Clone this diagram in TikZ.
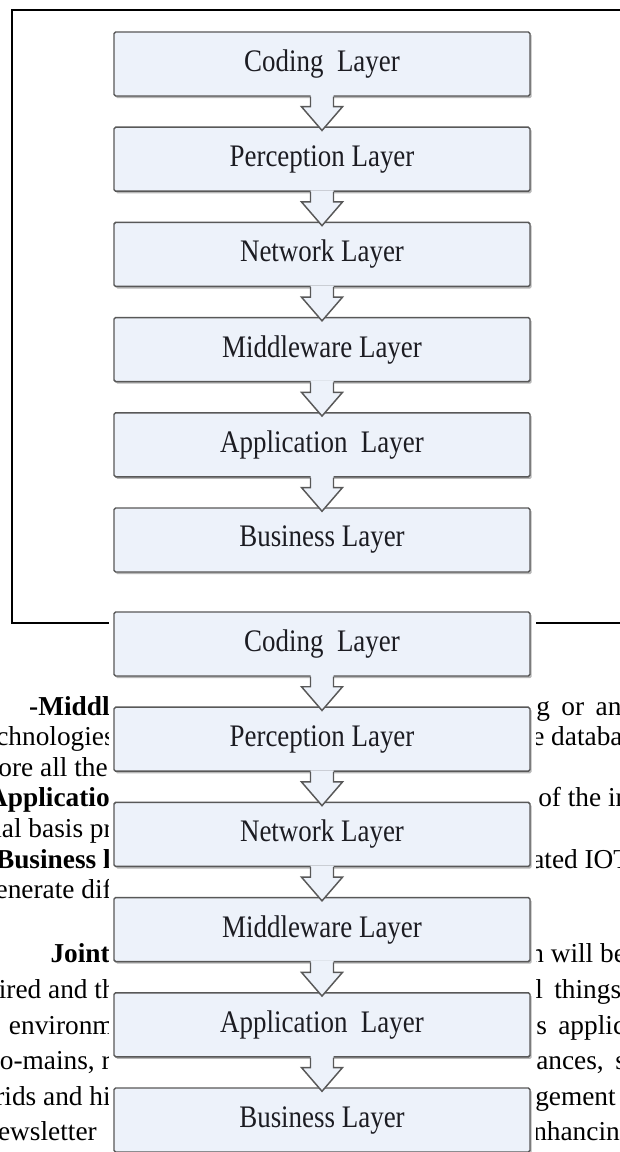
\documentclass[tikz,border=0pt]{standalone}
\usepackage{fontspec}
\setmainfont{Liberation Serif}
\newfontfamily\layerfamily{Liberation Serif}[FakeStretch=0.86]
\usetikzlibrary{calc,shadows}

\definecolor{layerfill}{RGB}{237,242,250}
\definecolor{layerline}{RGB}{88,88,88}
\definecolor{labeltext}{RGB}{28,28,34}

% body text with justified-looking word gaps
\newcommand\bodyfont{\fontsize{20.5}{20}\selectfont}
\newcommand\widegaps{\spaceskip=0.42em\relax}

\tikzset{
  layer/.style={draw=layerline, line width=1.1pt, fill=layerfill,
    rounded corners=1.2pt, minimum width=312pt, minimum height=48pt,
    inner sep=0pt, text=labeltext,
    font=\layerfamily\fontsize{23.5}{23.5}\selectfont,
    drop shadow={shadow xshift=1.3pt, shadow yshift=-1.6pt,
      opacity=0.4, fill=black!70}},
  flowfill/.style={fill=layerfill},
  flowline/.style={draw=layerline, line width=1.1pt, line join=miter},
  frameline/.style={draw=black, line width=1.1pt},
  bodyleft/.style={anchor=base east, inner sep=0pt, font=\bodyfont},
  bodyright/.style={anchor=base west, inner sep=0pt, font=\bodyfont},
  cover/.style={fill=white, draw=none}
}

% hollow block arrow from the bottom of one layer to the top of the next
\newcommand\flowarrow[2]{%
  \fill[flowfill] ($(#1.south)+(-11.5,-1.6)$) -- ($(#1.south)+(-11.5,10)$)
    -- ($(#1.south)+(-20.5,10)$) -- ($(#2.north)+(0,4)$)
    -- ($(#1.south)+(20.5,10)$) -- ($(#1.south)+(11.5,10)$)
    -- ($(#1.south)+(11.5,-1.6)$) -- cycle;
  \draw[flowline] ($(#1.south)+(-11.5,0)$) -- ($(#1.south)+(-11.5,10)$)
    -- ($(#1.south)+(-20.5,10)$) -- ($(#2.north)+(0,4)$)
    -- ($(#1.south)+(20.5,10)$) -- ($(#1.south)+(11.5,10)$)
    -- ($(#1.south)+(11.5,0)$);
}

\begin{document}
\begin{tikzpicture}[x=0.75pt, y=-0.75pt]
\useasboundingbox (0,0) rectangle (620,1152);
\clip (0,0) rectangle (620,1152);
\fill[white] (0,0) rectangle (620,1152);

% outer frame (open to the right)
\coordinate (fTR) at (640,10);
\coordinate (fTL) at (12,10);
\coordinate (fBL) at (12,623);
\coordinate (fBR) at (640,623);
\draw[frameline] (fTR) -- (fTL) -- (fBL) -- (fBR);

% running text
\node[bodyleft] (l1) at (110,715) {\bfseries -Middl};
\node[bodyleft] (l2) at (115,745) {chnologies};
\node[bodyleft] (l3) at (108,776) {ore all the};
\node[bodyleft] (l4) at (110,806) {\bfseries Applicatio};
\node[bodyleft] (l5) at (113,837) {ial basis pr};
\node[bodyleft] (l6) at (111,868) {\bfseries Business l};
\node[bodyleft] (l7) at (112,898) {enerate dif};
\node[bodyleft] (l8) at (110,962) {\bfseries Joint};
\node[bodyleft] (l9) at (116,998) {ired and th};
\node[bodyleft] (l10) at (114,1034) {environm};
\node[bodyleft] (l11) at (111,1069) {o-mains, r};
\node[bodyleft] (l12) at (111,1105) {rids and hi};
\node[bodyleft] (l13) at (97,1140) {ewsletter};

\node[bodyright] (r1) at (536,715) {\widegaps g or and};
\node[bodyright] (r2) at (532,745) {e database};
\node[bodyright] (r4) at (538,806) {of the in};
\node[bodyright] (r6) at (532,868) {ated IOT};
\node[bodyright] (r8) at (530,962) {n will be};
\node[bodyright] (r9) at (535,998) {\widegaps l things};
\node[bodyright] (r10) at (536,1034) {\widegaps s applic};
\node[bodyright] (r11) at (536,1069) {\widegaps ances, s};
\node[bodyright] (r12) at (535,1105) {gement};
\node[bodyright] (r13) at (533,1140) {nhancin};

\fill[cover] (109,600) rectangle (536,1152);

% upper layer stack
\node[layer] (t1) at (322,64)    {Coding\ \ Layer};
\node[layer] (t2) at (322,159.2) {Perception Layer};
\node[layer] (t3) at (322,254.4) {Network Layer};
\node[layer] (t4) at (322,349.6) {Middleware Layer};
\node[layer] (t5) at (322,444.8) {Application\ \ Layer};
\node[layer] (t6) at (322,540)   {Business Layer};
\flowarrow{t1}{t2}
\flowarrow{t2}{t3}
\flowarrow{t3}{t4}
\flowarrow{t4}{t5}
\flowarrow{t5}{t6}

% lower layer stack
\node[layer] (b1) at (322,644)    {Coding\ \ Layer};
\node[layer] (b2) at (322,739.2)  {Perception Layer};
\node[layer] (b3) at (322,834.4)  {Network Layer};
\node[layer] (b4) at (322,929.6)  {Middleware Layer};
\node[layer] (b5) at (322,1024.8) {Application\ \ Layer};
\node[layer] (b6) at (322,1120)   {Business Layer};
\flowarrow{b1}{b2}
\flowarrow{b2}{b3}
\flowarrow{b3}{b4}
\flowarrow{b4}{b5}
\flowarrow{b5}{b6}
\end{tikzpicture}
\end{document}
